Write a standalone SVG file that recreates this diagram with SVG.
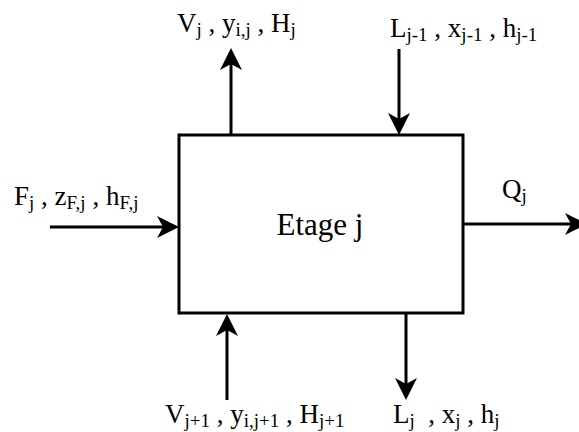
<svg xmlns="http://www.w3.org/2000/svg" width="579" height="432" viewBox="0 0 579 432">
<style>
  text { font-family: "Liberation Serif", "Times New Roman", serif; fill: #000; white-space: pre; }
  .lbl { font-size: 27px; }
  .big { font-size: 31px; }
  .sub { font-size: 19px; }
  .box { fill: #fff; stroke: #000; stroke-width: 3; }
  .flow { stroke: #000; stroke-width: 3; fill: none; marker-end: url(#head); }
</style>
<defs>
  <marker id="head" markerUnits="userSpaceOnUse" markerWidth="30" markerHeight="30" viewBox="-20 -12 30 24" refX="0" refY="0" orient="auto" overflow="visible">
    <path d="M6,0 L-16,-11 L-10,0 L-16,11 Z" fill="#000"/>
  </marker>
</defs>
<rect width="579" height="432" fill="#fff"/>
<g id="connectors">
  <line class="flow" x1="231" y1="135" x2="231" y2="54"/>
  <line class="flow" x1="399" y1="49" x2="399" y2="129"/>
  <line class="flow" x1="50" y1="227" x2="173" y2="227"/>
  <line class="flow" x1="463" y1="224" x2="581" y2="224"/>
  <line class="flow" x1="227" y1="400" x2="227" y2="320"/>
  <line class="flow" x1="406" y1="313" x2="406" y2="394"/>
</g>
<g id="stage">
  <rect class="box" x="179" y="135" width="284" height="178"/>
  <text class="big" x="320" y="235" text-anchor="middle">Etage j</text>
</g>
<g id="vapour-out">
  <text class="lbl" x="177" y="32">V<tspan class="sub" dy="4">j</tspan><tspan dy="-4"> , y</tspan><tspan class="sub" dy="4">i,j</tspan><tspan dy="-4"> , H</tspan><tspan class="sub" dy="4">j</tspan></text>
</g>
<g id="liquid-in">
  <text class="lbl" x="390" y="37">L<tspan class="sub" dy="4">j-1</tspan><tspan dy="-4"> , x</tspan><tspan class="sub" dy="4">j-1</tspan><tspan dy="-4"> , h</tspan><tspan class="sub" dy="4">j-1</tspan></text>
</g>
<g id="feed">
  <text class="lbl" x="14" y="205">F<tspan class="sub" dy="4">j</tspan><tspan dy="-4"> , z</tspan><tspan class="sub" dy="4">F,j</tspan><tspan dy="-4"> , h</tspan><tspan class="sub" dy="4">F,j</tspan></text>
</g>
<g id="side-draw">
  <text class="lbl" x="502" y="198">Q<tspan class="sub" dy="4">j</tspan></text>
</g>
<g id="vapour-in">
  <text class="lbl" x="165" y="423">V<tspan class="sub" dy="4">j+1</tspan><tspan dy="-4"> , y</tspan><tspan class="sub" dy="4">i,j+1</tspan><tspan dy="-4"> , H</tspan><tspan class="sub" dy="4">j+1</tspan></text>
</g>
<g id="liquid-out">
  <text class="lbl" x="393" y="423">L<tspan class="sub" dy="4">j</tspan><tspan dy="-4">  , x</tspan><tspan class="sub" dy="4">j</tspan><tspan dy="-4"> , h</tspan><tspan class="sub" dy="4">j</tspan></text>
</g>
</svg>
